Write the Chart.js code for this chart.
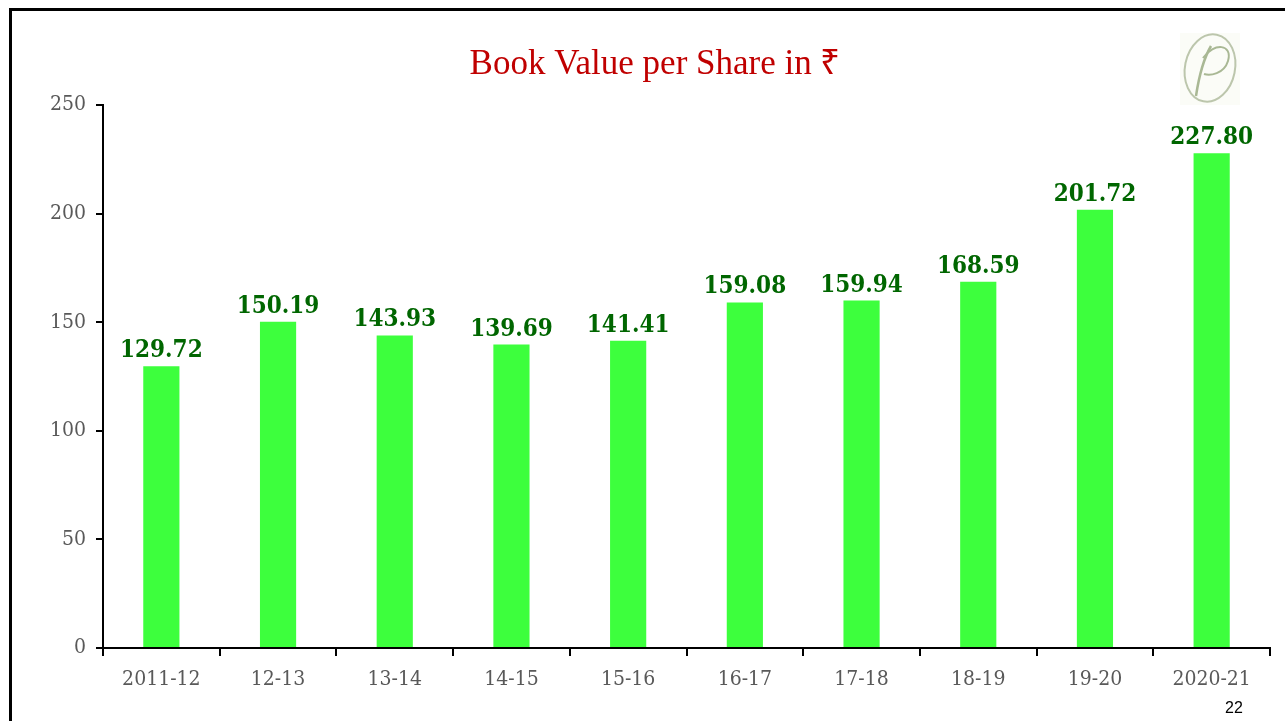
<!DOCTYPE html>
<html>
<head>
<meta charset="utf-8">
<script src="https://cdn.jsdelivr.net/npm/chart.js@4.4.0/dist/chart.umd.min.js"></script>
<style>
html,body{margin:0;padding:0;background:#fff;}
#wrap{position:relative;width:1285px;height:721px;}
</style>
</head>
<body>
<div id="wrap"><canvas id="c" width="1285" height="721"></canvas></div>
<script>
const categories = ["2011-12","12-13","13-14","14-15","15-16","16-17","17-18","18-19","19-20","2020-21"];
const bookValues = [129.72,150.19,143.93,139.69,141.41,159.08,159.94,168.59,201.72,227.80];
const yTicks = [0,50,100,150,200,250];
const titleText = "Book Value per Share in \u20B9";
const pageNumber = "22";

const decor = {
  id:'decor',
  beforeDraw(chart){
    const ctx = chart.ctx;
    ctx.save();
    ctx.fillStyle='#fff';
    ctx.fillRect(0,0,chart.width,chart.height);
    ctx.strokeStyle='#000';
    ctx.lineWidth=3;
    ctx.beginPath();
    ctx.moveTo(10.5,721);
    ctx.lineTo(10.5,9.5);
    ctx.lineTo(1285,9.5);
    ctx.stroke();
    // logo
    ctx.fillStyle='#fbfcf7';
    ctx.fillRect(1180,33,60,72);
    ctx.strokeStyle='#bcc6ac';
    ctx.lineWidth=2;
    ctx.beginPath();
    ctx.ellipse(1210,68,25,34,0.2,0,Math.PI*2);
    ctx.stroke();
    ctx.strokeStyle='#a9b894';
    ctx.lineWidth=2.5;
    ctx.beginPath();
    ctx.moveTo(1196,96);
    ctx.bezierCurveTo(1199,76,1204,58,1211,46);
    ctx.stroke();
    ctx.lineWidth=2;
    ctx.beginPath();
    ctx.moveTo(1203,58);
    ctx.bezierCurveTo(1214,42,1233,44,1228,61);
    ctx.bezierCurveTo(1224,74,1210,76,1204,74);
    ctx.stroke();
    // title
    ctx.fillStyle='#c00000';
    ctx.font='35px "Liberation Serif", serif';
    ctx.textAlign='center';
    ctx.textBaseline='alphabetic';
    ctx.fillText(titleText,655,74);
    // page number
    ctx.fillStyle='#000';
    ctx.font='16px "Liberation Sans", Arial, sans-serif';
    ctx.fillText(pageNumber,1234,713);
    ctx.restore();
  },
  afterDatasetsDraw(chart){
    const ctx = chart.ctx;
    const meta = chart.getDatasetMeta(0);
    ctx.save();
    ctx.fillStyle='#006600';
    ctx.font='bold 24px "DejaVu Serif Condensed", "DejaVu Serif", serif';
    ctx.textAlign='center';
    ctx.textBaseline='alphabetic';
    meta.data.forEach((bar,i)=>{
      ctx.fillText(bookValues[i].toFixed(2), bar.x, bar.y-9);
    });
    ctx.restore();
  }
};

new Chart(document.getElementById('c'),{
  type:'bar',
  data:{
    labels:categories,
    datasets:[{
      data:bookValues,
      backgroundColor:'#3dff3d',
      borderWidth:0,
      barPercentage:0.31,
      categoryPercentage:1.0
    }]
  },
  options:{
    responsive:false,
    animation:false,
    devicePixelRatio:1,
    layout:{padding:{left:0,right:15,top:105,bottom:0}},
    plugins:{legend:{display:false},title:{display:false},tooltip:{enabled:false}},
    scales:{
      x:{
        offset:true,
        grid:{display:true,drawOnChartArea:false,offset:true,color:'#000',lineWidth:2,tickLength:8},
        border:{display:true,color:'#000',width:2},
        ticks:{color:'#595959',font:{family:'"DejaVu Serif Condensed", "DejaVu Serif", serif',size:21},padding:11,maxRotation:0,autoSkip:false},
        afterFit(s){s.height=73;}
      },
      y:{
        min:0,max:250,
        afterBuildTicks(s){s.ticks=yTicks.map(v=>({value:v}));},
        grid:{display:true,drawOnChartArea:false,color:'#000',lineWidth:2,tickLength:7},
        border:{display:true,color:'#000',width:2},
        ticks:{color:'#595959',font:{family:'"DejaVu Serif Condensed", "DejaVu Serif", serif',size:21},padding:10},
        afterFit(s){s.width=103;}
      }
    }
  },
  plugins:[decor]
});
</script>
</body>
</html>
